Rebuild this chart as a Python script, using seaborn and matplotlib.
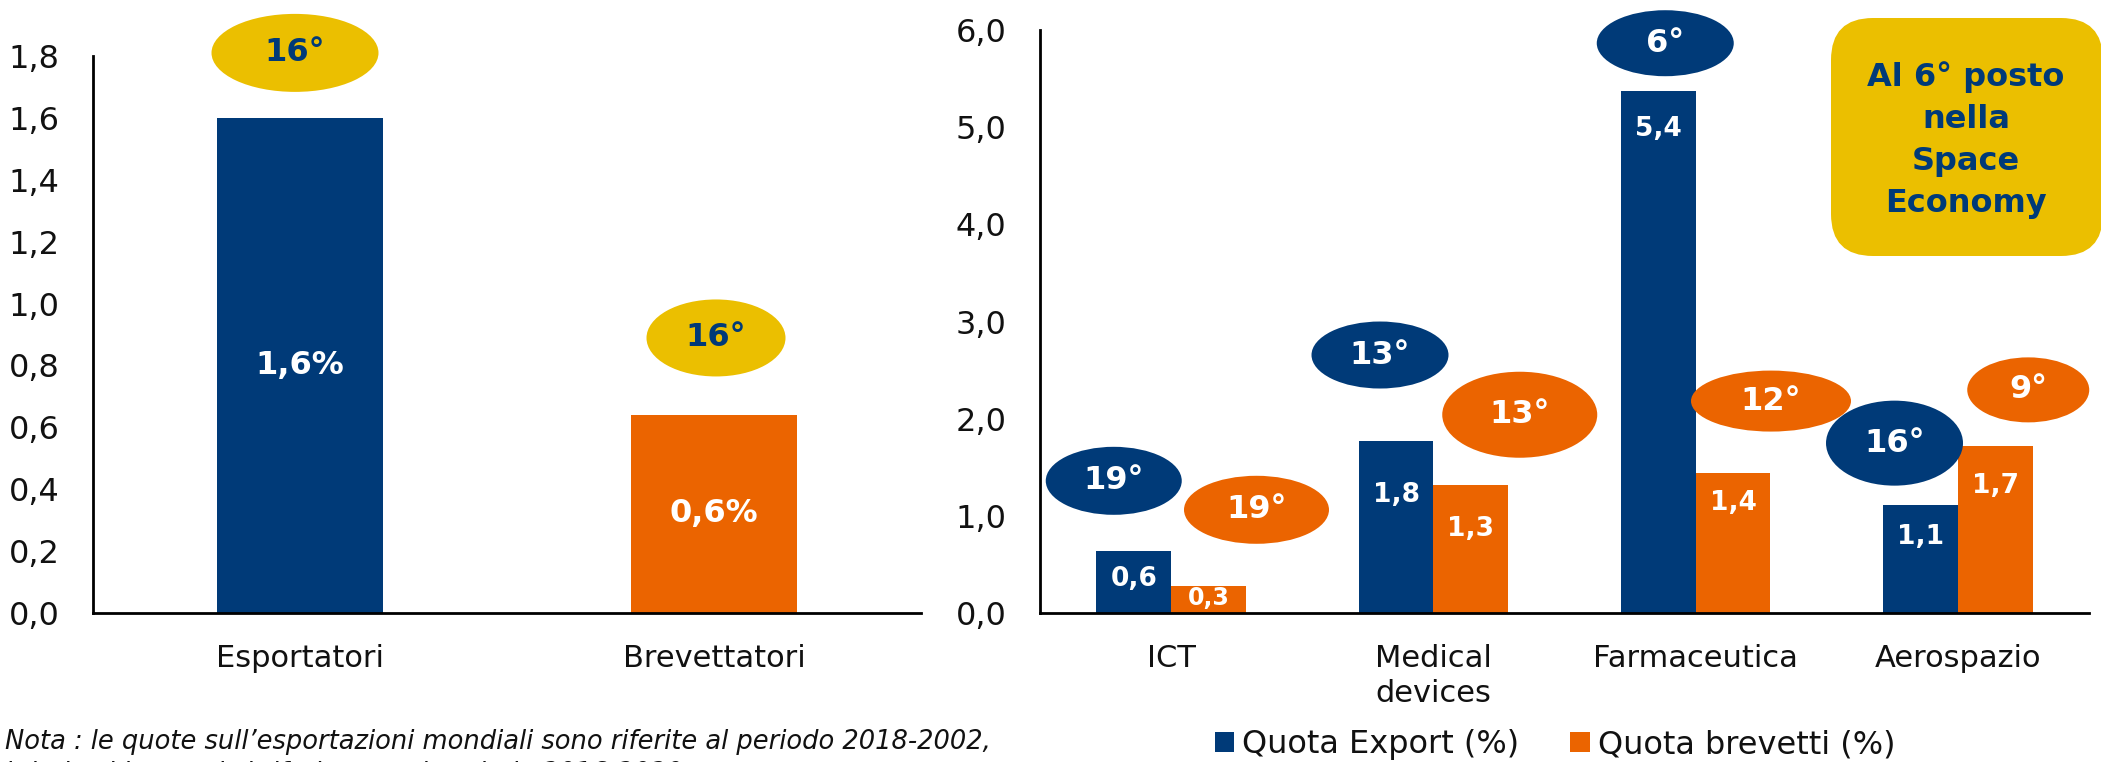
import numpy as np
import pandas as pd
import matplotlib
matplotlib.use("Agg")
import matplotlib.pyplot as plt
import seaborn as sns
from matplotlib.patches import Ellipse, FancyBboxPatch
from matplotlib.transforms import IdentityTransform

# ---------------- data ----------------
left_categories = ["Esportatori", "Brevettatori"]
left_values = [1.60, 0.64]
left_ranks = ["16°", "16°"]

sectors = ["ICT", "Medical\ndevices", "Farmaceutica", "Aerospazio"]
series_names = ["Quota Export (%)", "Quota brevetti (%)"]
export_values = [0.64, 1.77, 5.37, 1.11]
patent_values = [0.28, 1.32, 1.44, 1.72]
export_ranks = ["19°", "13°", "6°", "16°"]
patent_ranks = ["19°", "13°", "12°", "9°"]

left_yticks = [0.0, 0.2, 0.4, 0.6, 0.8, 1.0, 1.2, 1.4, 1.6, 1.8]
right_yticks = [0.0, 1.0, 2.0, 3.0, 4.0, 5.0, 6.0]

box_text = "Al 6° posto\nnella\nSpace\nEconomy"
note_lines = ["Nota : le quote sull\u2019esportazioni mondiali sono riferite al periodo 2018-2002,",
              "i dati sui brevetti si riferiscono al periodo 2016-2020"]

# ---------------- style / layout ----------------
BLUE = "#003A78"
ORANGE = "#EB6400"
YELLOW = "#EBBF00"
W, H = 2101, 762

# badge layout: (dx px, dy px up from bar top, width px, height px)
left_badge_layout = [(-5, 65, 167, 78), (2, 77, 139, 77)]
export_badge_layout = [(-20, 70, 136, 68), (-16, 86, 137, 67), (7, 48, 137, 66), (-26, 62, 137, 85)]
patent_badge_layout = [(48, 76, 145, 68), (49, 70, 155, 86), (38, 72, 160, 61), (33, 56, 122, 65)]
# value-label offsets (px below bar top)
export_label_off = [28, 54, 38, 32]
patent_label_off = [12, 44, 30, 40]

sns.set_theme(style="white")
plt.rcParams["font.family"] = ["DejaVu Sans"]

fig = plt.figure(figsize=(W / 100, H / 100), dpi=100)
fig.patch.set_facecolor("white")

ax1 = fig.add_axes([93 / W, 1 - 613 / H, 828 / W, 557 / H])
ax2 = fig.add_axes([1040 / W, 1 - 613 / H, 1049 / W, 583 / H])

df_left = pd.DataFrame({"cat": left_categories, "val": left_values})
sns.barplot(data=df_left, x="cat", y="val", hue="cat", palette=[BLUE, ORANGE],
            width=0.4, saturation=1, legend=False, linewidth=0, ax=ax1)

df_right = pd.DataFrame({
    "sector": sectors * 2,
    "series": [series_names[0]] * len(sectors) + [series_names[1]] * len(sectors),
    "value": export_values + patent_values,
})
sns.barplot(data=df_right, x="sector", y="value", hue="series", hue_order=series_names,
            palette=[BLUE, ORANGE], width=0.57, saturation=1, linewidth=0, ax=ax2)

ax1.set_xlim(-0.5, 1.5)
ax1.set_ylim(0, 1.8)
ax2.set_xlim(-0.5, 3.5)
ax2.set_ylim(0, 6.0)

def fmt(v):
    return f"{v:.1f}".replace(".", ",")

for ax, ticks in ((ax1, left_yticks), (ax2, right_yticks)):
    ax.set_yticks(ticks)
    ax.set_yticklabels([fmt(t) for t in ticks])
    ax.set_xlabel("")
    ax.set_ylabel("")
    for s in ("top", "right"):
        ax.spines[s].set_visible(False)
    for s in ("left", "bottom"):
        ax.spines[s].set_color("black")
        ax.spines[s].set_linewidth(2)
    ax.tick_params(axis="y", length=0, pad=24, labelsize=23, labelcolor="#111111")
    ax.tick_params(axis="x", length=0, pad=22, labelsize=22, labelcolor="#111111")
    ax.grid(False)
    ax.set_facecolor("white")

for lbl in ax2.get_xticklabels():
    lbl.set_linespacing(1.3)

handles, labels = ax2.get_legend_handles_labels()
if ax2.get_legend() is not None:
    ax2.get_legend().remove()


def px_scale(ax):
    x0, x1 = ax.get_xlim()
    y0, y1 = ax.get_ylim()
    return ax.bbox.width / (x1 - x0), ax.bbox.height / (y1 - y0)


def badge(ax, bar, layout, text, face, tcolor):
    sx, sy = px_scale(ax)
    dx, dy, w, h = layout
    cx = bar.get_x() + bar.get_width() / 2 + dx / sx
    cy = bar.get_height() + dy / sy
    e = Ellipse((cx, cy), w / sx, h / sy, facecolor=face, edgecolor="none",
                clip_on=False, zorder=5)
    ax.add_patch(e)
    ax.text(cx, cy, text, ha="center", va="center", fontsize=23, fontweight="bold",
            color=tcolor, zorder=6, clip_on=False)


# left chart: one container per hue level -> collect bars in x order
left_bars = sorted([b for c in ax1.containers for b in c], key=lambda b: b.get_x())
for bar, lay, rk, v in zip(left_bars, left_badge_layout, left_ranks, left_values):
    badge(ax1, bar, lay, rk, YELLOW, BLUE)
    ax1.text(bar.get_x() + bar.get_width() / 2, v / 2, fmt(v) + "%", ha="center", va="center",
             fontsize=23, fontweight="bold", color="white", zorder=6)

# right chart
_, sy2 = px_scale(ax2)
for cont, lays, ranks, vals, offs, face in (
        (ax2.containers[0], export_badge_layout, export_ranks, export_values, export_label_off, BLUE),
        (ax2.containers[1], patent_badge_layout, patent_ranks, patent_values, patent_label_off, ORANGE)):
    bars = sorted(list(cont), key=lambda b: b.get_x())
    for bar, lay, rk, v, off in zip(bars, lays, ranks, vals, offs):
        badge(ax2, bar, lay, rk, face, "white")
        fs = 17 if v < 0.5 else 19
        ax2.text(bar.get_x() + bar.get_width() / 2, v - off / sy2, fmt(v), ha="center", va="center",
                 fontsize=fs, fontweight="bold", color="white", zorder=6)

# yellow rounded info box (figure pixel space)
box = FancyBboxPatch((1831, H - 256), 272, 238, boxstyle="round,pad=0,rounding_size=42",
                     facecolor=YELLOW, edgecolor="none", transform=IdentityTransform(), zorder=10)
fig.add_artist(box)
fig.text(1966 / W, 1 - 140 / H, box_text, ha="center", va="center", fontsize=23,
         fontweight="bold", color=BLUE, linespacing=1.45, zorder=11)

# legend
fig.legend(handles, labels, loc="center", bbox_to_anchor=(1555 / W, 1 - 745 / H), ncol=2,
           frameon=False, fontsize=23, handlelength=0.6, handleheight=0.6,
           handletextpad=0.25, columnspacing=1.6, borderpad=0, labelcolor="#111111")

# note (second line partly cut off by the bottom edge, as in the source)
fig.text(5 / W, 1 - 742 / H, note_lines[0], ha="left", va="center", fontsize=18.5,
         style="italic", color="#111111")
fig.text(5 / W, 1 - 774 / H, note_lines[1], ha="left", va="center", fontsize=18.5,
         style="italic", color="#111111")

fig.savefig("out.png", dpi=100, facecolor="white")
